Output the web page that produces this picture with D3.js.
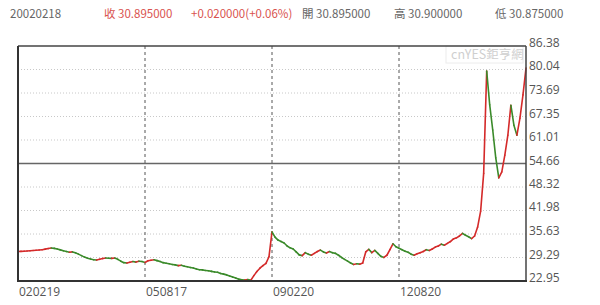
<!DOCTYPE html>
<html><head><meta charset="utf-8">
<script src="https://cdn.jsdelivr.net/npm/d3@7/dist/d3.min.js"></script>
<style>html,body{margin:0;padding:0;background:#fff;}svg{display:block;}</style>
</head><body>
<script>
const prices = [
30.90,30.95,31.00,31.05,31.10,31.20,31.25,31.30,31.40,31.55,
31.70,31.85,31.75,31.60,31.35,31.10,30.90,30.70,30.80,30.55,
30.20,29.80,29.40,29.10,28.90,28.70,28.60,28.80,29.00,29.15,
29.10,29.05,29.15,28.80,28.30,27.90,27.80,28.00,28.20,28.05,
28.30,28.20,27.95,28.40,28.55,28.70,28.45,28.20,27.90,27.75,
27.60,27.40,27.30,27.10,27.20,26.95,26.80,26.60,26.45,26.20,
26.00,25.95,25.80,25.70,25.55,25.40,25.30,25.00,24.80,24.60,
24.30,24.00,23.75,23.45,23.25,23.20,23.35,23.15,24.40,25.50,
26.40,27.10,27.70,29.50,36.20,34.80,34.00,33.60,33.20,32.40,
31.90,31.60,30.80,30.00,29.80,30.60,30.20,29.90,30.40,30.90,
31.30,30.80,30.50,30.90,30.60,30.40,29.90,29.30,28.80,28.30,
27.80,27.40,27.60,27.50,27.80,30.80,31.50,30.60,31.20,30.40,
29.60,29.30,29.90,31.40,33.00,32.20,31.80,31.40,31.00,30.70,
30.20,29.90,30.30,30.60,30.90,31.40,31.20,31.60,32.10,32.40,
32.90,32.60,33.10,33.60,34.30,34.60,35.10,35.80,35.30,34.90,
34.40,35.10,37.50,41.80,52.00,79.60,70.50,63.70,56.20,50.80,
52.40,56.90,62.30,70.40,65.00,62.30,66.90,73.20,80.40
];
const xTickLabels = ["020219","050817","090220","120820"];
const xTickIndex = [0,42,84,126];
const yTicks = [22.95,29.29,35.63,41.98,48.32,54.66,61.01,67.35,73.69,80.04,86.38];
const midValue = 54.66;
const header = [
  {t:"20020218", c:"#666"},
  {t:"收 30.895000", c:"#d9534f"},
  {t:"+0.020000(+0.06%)", c:"#d9534f"},
  {t:"開 30.895000", c:"#666"},
  {t:"高 30.900000", c:"#666"},
  {t:"低 30.875000", c:"#666"}
];
const headerX = [10,104,191,302,394,495];

const W=600,H=305, L=18,R=526,T=46,B=281;
const svg = d3.select("body").append("svg").attr("width",W).attr("height",H);
const font = "'Noto Sans CJK TC','Noto Sans',sans-serif";

const x = d3.scaleLinear().domain([0, prices.length-1]).range([L,R]);
const y = d3.scaleLinear().domain([yTicks[0], yTicks[yTicks.length-1]]).range([B,T]);

// header
svg.selectAll("text.hdr").data(header).join("text").attr("class","hdr")
  .attr("x",(d,i)=>headerX[i]).attr("y",18)
  .attr("font-family",font).attr("font-size",11.5).attr("fill",d=>d.c).text(d=>d.t);

// grid
const g = svg.append("g");
g.selectAll("line.hg").data(yTicks.filter(v=>v!==midValue && v!==yTicks[0] && v!==yTicks[yTicks.length-1])).join("line")
  .attr("x1",L).attr("x2",R).attr("y1",d=>y(d)).attr("y2",d=>y(d))
  .attr("stroke","#c8c8c8").attr("stroke-width",1).attr("stroke-dasharray","1,2");
g.append("line").attr("x1",L).attr("x2",R).attr("y1",y(midValue)).attr("y2",y(midValue))
  .attr("stroke","#666").attr("stroke-width",1.5);
g.selectAll("line.vg").data(xTickIndex.slice(1)).join("line")
  .attr("x1",d=>x(d)).attr("x2",d=>x(d)).attr("y1",T).attr("y2",B)
  .attr("stroke","#555").attr("stroke-width",1).attr("stroke-dasharray","3,3");

// watermark
svg.append("rect").attr("x",446).attr("y",46).attr("width",77).attr("height",17)
  .attr("fill","#fff").attr("stroke","#ececec");
svg.append("text").attr("x",451).attr("y",59).attr("font-family",font).attr("font-size",12.5)
  .attr("fill","#cfcfcf").text("cnYES鉅亨網");

// line segments colored by direction
const segs = d3.pairs(prices.map((v,i)=>({i,v})));
svg.append("g").selectAll("line").data(segs).join("line")
  .attr("x1",d=>x(d[0].i)).attr("y1",d=>y(d[0].v))
  .attr("x2",d=>x(d[1].i)).attr("y2",d=>y(d[1].v))
  .attr("stroke",d=>d[1].v>=d[0].v?"#d42a2a":"#3a8a2a")
  .attr("stroke-width",1.6).attr("stroke-linecap","round");

// borders
svg.append("line").attr("x1",L).attr("x2",R).attr("y1",T).attr("y2",T).attr("stroke","#444").attr("stroke-width",1.5);
svg.append("line").attr("x1",R).attr("x2",R).attr("y1",T).attr("y2",B).attr("stroke","#444").attr("stroke-width",1.5);
svg.append("line").attr("x1",L).attr("x2",L).attr("y1",T).attr("y2",B+1).attr("stroke","#333").attr("stroke-width",2);
svg.append("line").attr("x1",L-1).attr("x2",R+1).attr("y1",B).attr("y2",B).attr("stroke","#333").attr("stroke-width",2);

// y labels
svg.selectAll("text.yl").data(yTicks).join("text").attr("class","yl")
  .attr("x",R+3).attr("y",d=>y(d)+1)
  .attr("font-family","'Open Sans',sans-serif").attr("font-size",12).attr("fill","#555").text(d=>d.toFixed(2));

// x labels
svg.selectAll("text.xl").data(xTickIndex).join("text").attr("class","xl")
  .attr("x",d=>x(d)+1).attr("y",296)
  .attr("font-family","'Open Sans',sans-serif").attr("font-size",12).attr("fill","#555")
  .text((d,i)=>xTickLabels[i]);
</script>
</body></html>
